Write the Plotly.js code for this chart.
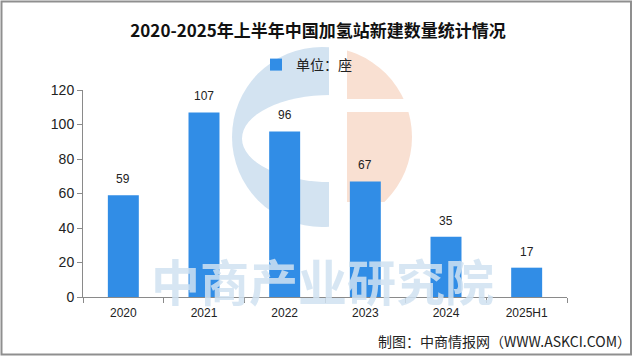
<!DOCTYPE html>
<html>
<head>
<meta charset="utf-8">
<script src="https://cdn.plot.ly/plotly-3.0.1.min.js"></script>
<style>
html,body{margin:0;padding:0;background:#fff;}
#chart{width:640px;height:356px;}
</style>
</head>
<body>
<div id="chart"></div>
<script>
// ---- data ----
const categories = ['2020', '2021', '2022', '2023', '2024', '2025H1'];
const values = [59, 107, 96, 67, 35, 17];
const seriesName = '单位：座';
const yTicks = [0, 20, 40, 60, 80, 100, 120];
const titleText = '2020-2025年上半年中国加氢站新建数量统计情况';
const sourceText = '制图：中商情报网（WWW.ASKCI.COM）';
const watermarkText = '中商产业研究院';

// ---- layout helpers (pixel -> paper) ----
const W = 640, H = 356, L = 83, R = 73, T = 90, B = 59;
const pw = W - L - R, ph = H - T - B;
const fx = px => (px - L) / pw;
const fy = py => (H - B - py) / ph;

const barColor = '#318de6';
const axisColor = '#8a8a8a';
const cjk = '"Noto Sans CJK SC", "Noto Sans", sans-serif';
const latin = '"Liberation Sans", Arial, sans-serif';

// watermark logo as svg
const logoSvg =
 '<svg xmlns="http://www.w3.org/2000/svg" width="640" height="356" viewBox="0 0 640 356">' +
 '<defs><clipPath id="cl"><rect x="0" y="0" width="329" height="356"/></clipPath>' +
 '<clipPath id="cr"><rect x="347" y="0" width="300" height="202"/></clipPath></defs>' +
 '<circle cx="322" cy="137" r="90" fill="#d3e3f1" clip-path="url(#cl)"/>' +
 '<ellipse cx="331" cy="138.5" rx="89" ry="43.5" fill="#ffffff"/>' +
 '<circle cx="322" cy="137" r="90" fill="#f9e0d2" clip-path="url(#cr)"/>' +
 '<rect x="340" y="99" width="120" height="13" fill="#ffffff"/>' +
 '</svg>';
const logoUri = 'data:image/svg+xml;charset=utf-8,' + encodeURIComponent(logoSvg);

const trace = {
  type: 'bar',
  x: categories,
  y: values,
  name: seriesName,
  marker: {color: barColor},
  showlegend: true,
  hoverinfo: 'x+y'
};

// value labels (category index positions)
const labelAnns = values.map((v, i) => ({
  x: i, y: v, xref: 'x', yref: 'y',
  xanchor: 'center', yanchor: 'middle',
  text: String(v), showarrow: false, yshift: 16,
  font: {family: latin, size: 12, color: '#222'}
}));

const layout = {
  width: W, height: H,
  margin: {l: L, r: R, t: T, b: B, pad: 0},
  paper_bgcolor: '#ffffff',
  plot_bgcolor: 'rgba(0,0,0,0)',
  title: {
    text: '<b>' + titleText + '</b>',
    font: {family: cjk, size: 17, color: '#111'},
    x: 0.497, xref: 'container', xanchor: 'center',
    y: 1 - 31 / H, yref: 'container', yanchor: 'middle'
  },
  showlegend: true,
  legend: {
    orientation: 'h',
    xref: 'container', yref: 'container',
    x: 256 / W, xanchor: 'left',
    y: 1 - 65 / H, yanchor: 'middle',
    font: {family: cjk, size: 14, color: '#222'},
    bgcolor: 'rgba(0,0,0,0)',
    itemwidth: 30
  },
  bargap: 0.616,
  xaxis: {
    type: 'category',
    range: [-0.5, categories.length - 0.5],
    autorange: false,
    showline: true, linecolor: axisColor, linewidth: 1,
    ticks: 'outside', tickson: 'boundaries', ticklen: 5, tickcolor: axisColor,
    ticklabelstandoff: 5,
    tickfont: {family: latin, size: 12, color: '#222'},
    showgrid: false, zeroline: false, fixedrange: true
  },
  yaxis: {
    range: [0, 120],
    autorange: false,
    tickvals: yTicks,
    showline: true, linecolor: axisColor, linewidth: 1,
    ticks: 'outside', ticklen: 5, tickcolor: axisColor,
    tickfont: {family: latin, size: 14, color: '#222'},
    showgrid: false, zeroline: false, fixedrange: true
  },
  images: [{
    source: logoUri, xref: 'paper', yref: 'paper',
    x: fx(0), y: fy(0), sizex: W / pw, sizey: H / ph,
    xanchor: 'left', yanchor: 'top', sizing: 'stretch', layer: 'below'
  }],
  shapes: [{
    type: 'rect', xref: 'paper', yref: 'paper', layer: 'above',
    x0: fx(1.5), x1: fx(631), y0: fy(354.5), y1: fy(1.5),
    line: {color: '#8f8f8f', width: 2}, fillcolor: 'rgba(0,0,0,0)'
  }],
  annotations: [
    {
      xref: 'paper', yref: 'paper', x: fx(322), y: fy(279),
      xanchor: 'center', yanchor: 'middle',
      text: watermarkText, showarrow: false,
      font: {family: cjk, size: 49, color: 'rgba(208,226,241,0.85)', weight: 700}
    },
    {
      xref: 'paper', yref: 'paper', x: fx(633), y: fy(341),
      xanchor: 'right', yanchor: 'middle',
      text: sourceText, showarrow: false,
      font: {family: cjk, size: 14, color: '#222'}
    }
  ].concat(labelAnns)
};

Plotly.newPlot('chart', [trace], layout, {displayModeBar: false, staticPlot: true});
</script>
</body>
</html>
